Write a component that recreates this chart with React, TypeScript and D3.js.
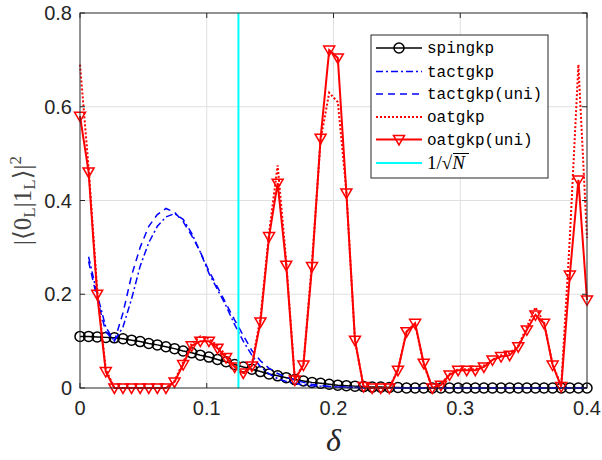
import React from 'react';
import * as d3 from 'd3';

// delta grid: 60 points from 0 to 0.4
const N_PTS = 60;
const deltas = d3.range(N_PTS).map(i => (i * 0.4) / (N_PTS - 1));

const spingkp = [
  0.110, 0.110, 0.109, 0.108, 0.107, 0.105, 0.102, 0.099, 0.095, 0.092,
  0.088, 0.084, 0.079, 0.075, 0.070, 0.066, 0.061, 0.056, 0.050, 0.045,
  0.040, 0.035, 0.030, 0.026, 0.022, 0.018, 0.015, 0.012, 0.010, 0.008,
  0.006, 0.005, 0.004, 0.003, 0.002, 0.002, 0.001, 0.001, 0, 0,
  0, 0, 0, 0, 0, 0, 0, 0, 0, 0,
  0, 0, 0, 0, 0, 0, 0, 0, 0, 0,
];

// tact curves start at the second grid point
const tactgkp = [
  null, 0.28, 0.20, 0.13, 0.10, 0.13, 0.19, 0.26, 0.31, 0.345,
  0.365, 0.372, 0.36, 0.33, 0.29, 0.245, 0.21, 0.175, 0.135, 0.10,
  0.07, 0.045, 0.03, 0.02, 0.014, 0.01, 0.007, 0.005, 0.004, 0.003,
  0.002, 0.002, 0.001, 0.001, 0, 0, 0, 0, 0, 0,
  0, 0, 0, 0, 0, 0, 0, 0, 0, 0,
  0, 0, 0, 0, 0, 0, 0, 0, 0, 0,
];

const tactgkpUni = [
  null, 0.27, 0.19, 0.12, 0.10, 0.16, 0.24, 0.30, 0.345, 0.37,
  0.383, 0.375, 0.355, 0.325, 0.29, 0.25, 0.215, 0.18, 0.145, 0.112,
  0.08, 0.058, 0.042, 0.031, 0.023, 0.017, 0.012, 0.008, 0.005, 0.003,
  0.002, 0.001, 0.001, 0, 0, 0, 0, 0, 0, 0,
  0, 0, 0, 0, 0, 0, 0, 0, 0, 0,
  0, 0, 0, 0, 0, 0, 0, 0, 0, 0,
];

const oatgkp = [
  0.69, 0.47, 0.21, 0.04, 0, 0, 0, 0, 0, 0,
  0, 0.015, 0.055, 0.095, 0.11, 0.105, 0.09, 0.07, 0.048, 0.03,
  0.05, 0.15, 0.33, 0.475, 0.27, 0.02, 0.05, 0.27, 0.53, 0.63,
  0.61, 0.42, 0.10, 0.003, 0, 0, 0, 0.04, 0.12, 0.135,
  0.05, 0, 0.008, 0.03, 0.04, 0.04, 0.04, 0.048, 0.06, 0.07,
  0.075, 0.09, 0.13, 0.172, 0.14, 0.05, 0.005, 0.32, 0.69, 0.32,
];

const oatgkpUni = [
  0.58, 0.461, 0.20, 0.035, 0, 0, 0, 0, 0, 0,
  0, 0.013, 0.05, 0.09, 0.10, 0.10, 0.085, 0.065, 0.045, 0.032,
  0.047, 0.141, 0.323, 0.437, 0.262, 0.017, 0.049, 0.259, 0.533, 0.721,
  0.704, 0.416, 0.102, 0.003, 0, 0, 0, 0.038, 0.12, 0.138,
  0.053, 0, 0.006, 0.028, 0.038, 0.038, 0.038, 0.045, 0.06, 0.067,
  0.07, 0.088, 0.124, 0.156, 0.138, 0.049, 0.003, 0.241, 0.444, 0.188,
];

const invSqrtN = 0.125; // 1/sqrt(64)

const xTicks = [0, 0.1, 0.2, 0.3, 0.4];
const yTicks = [0, 0.2, 0.4, 0.6, 0.8];

const legendItems = ['spingkp', 'tactgkp', 'tactgkp(uni)', 'oatgkp', 'oatgkp(uni)'];

const W = 602;
const H = 460;
const margin = { top: 13, right: 15, bottom: 72, left: 80 };

const AXIS_COLOR = '#262626';

function App() {
  const x = d3.scaleLinear().domain([0, 0.4]).range([margin.left, W - margin.right]);
  const y = d3.scaleLinear().domain([0, 0.8]).range([H - margin.bottom, margin.top]);

  const mkLine = (vals: (number | null)[]) =>
    d3.line<number>()
      .defined((_, i) => vals[i] !== null)
      .x(d => x(d))
      .y((_, i) => y(vals[i] as number))(deltas) || '';

  const tri = (cx: number, cy: number) =>
    `M${cx - 5.5},${cy - 4}L${cx + 5.5},${cy - 4}L${cx},${cy + 5.5}Z`;

  const x0 = x(0), x1 = x(0.4), y0 = y(0), y1 = y(0.8);

  // legend
  const lg = { x: 371, y: 35, w: 177, h: 143 };
  const rowY = [48, 71.5, 94, 117, 139.5, 163];
  const sx0 = 376, sx1 = 422, tx = 427;

  return (
    <div style={{ position: 'fixed', left: 0, top: 0 }}>
      <svg width={W} height={H} style={{ display: 'block', background: '#fff' }}>
        <rect x={0} y={0} width={W} height={H} fill="#fff" />
        {/* grid */}
        {xTicks.slice(1, -1).map(t => (
          <line key={'gx' + t} x1={x(t)} x2={x(t)} y1={y0} y2={y1} stroke="#dfdfdf" strokeWidth={1} />
        ))}
        {yTicks.slice(1, -1).map(t => (
          <line key={'gy' + t} x1={x0} x2={x1} y1={y(t)} y2={y(t)} stroke="#dfdfdf" strokeWidth={1} />
        ))}

        {/* series */}
        <path d={mkLine(spingkp)} fill="none" stroke="#000" strokeWidth={1.5} />
        {deltas.map((d, i) => (
          <circle key={'c' + i} cx={x(d)} cy={y(spingkp[i])} r={5} fill="none" stroke="#000" strokeWidth={1.5} />
        ))}
        <path d={mkLine(tactgkp)} fill="none" stroke="#0000ff" strokeWidth={1.5} strokeDasharray="7,3,2,3" />
        <path d={mkLine(tactgkpUni)} fill="none" stroke="#0000ff" strokeWidth={1.5} strokeDasharray="7,5" />
        <path d={mkLine(oatgkp)} fill="none" stroke="#ff0000" strokeWidth={2} strokeDasharray="2,2" />
        <path d={mkLine(oatgkpUni)} fill="none" stroke="#ff0000" strokeWidth={2} />
        {deltas.map((d, i) => (
          <path key={'t' + i} d={tri(x(d), y(oatgkpUni[i]))} fill="none" stroke="#ff0000" strokeWidth={1.5} />
        ))}
        <line x1={x(invSqrtN)} x2={x(invSqrtN)} y1={y0} y2={y1} stroke="#00ffff" strokeWidth={2} />

        {/* axes box */}
        <rect x={x0} y={y1} width={x1 - x0} height={y0 - y1} fill="none" stroke={AXIS_COLOR} strokeWidth={1} />
        {xTicks.map(t => (
          <g key={'xt' + t}>
            <line x1={x(t)} x2={x(t)} y1={y0} y2={y0 - 5} stroke={AXIS_COLOR} />
            <line x1={x(t)} x2={x(t)} y1={y1} y2={y1 + 5} stroke={AXIS_COLOR} />
            <text x={x(t)} y={y0 + 27} textAnchor="middle" fontFamily="Liberation Sans, Arial, sans-serif" fontSize={20} fill={AXIS_COLOR}>
              {t === 0 ? '0' : String(t)}
            </text>
          </g>
        ))}
        {yTicks.map(t => (
          <g key={'yt' + t}>
            <line x1={x0} x2={x0 + 5} y1={y(t)} y2={y(t)} stroke={AXIS_COLOR} />
            <line x1={x1} x2={x1 - 5} y1={y(t)} y2={y(t)} stroke={AXIS_COLOR} />
            <text x={x0 - 8} y={y(t) + 7} textAnchor="end" fontFamily="Liberation Sans, Arial, sans-serif" fontSize={20} fill={AXIS_COLOR}>
              {t === 0 ? '0' : String(t)}
            </text>
          </g>
        ))}

        {/* axis labels */}
        <text x={(x0 + x1) / 2} y={451} textAnchor="middle" fontFamily="Liberation Serif, DejaVu Serif, serif" fontStyle="italic" fontSize={32} fill={AXIS_COLOR}>
          δ
        </text>
        <text transform={`translate(31,${(y0 + y1) / 2}) rotate(-90)`} textAnchor="middle" fontFamily="Liberation Serif, DejaVu Serif, serif" fontSize={25} fill="#444">
          |⟨0<tspan fontSize={17} dy={4}>L</tspan><tspan dy={-4}>|1</tspan><tspan fontSize={17} dy={4}>L</tspan><tspan dy={-4}>⟩|</tspan><tspan fontSize={17} dy={-10}>2</tspan>
        </text>

        {/* legend */}
        <rect x={lg.x} y={lg.y} width={lg.w} height={lg.h} fill="#fff" stroke={AXIS_COLOR} strokeWidth={1} />
        <line x1={sx0} x2={sx1} y1={rowY[0]} y2={rowY[0]} stroke="#000" strokeWidth={1.5} />
        <circle cx={(sx0 + sx1) / 2} cy={rowY[0]} r={5} fill="none" stroke="#000" strokeWidth={1.5} />
        <line x1={sx0} x2={sx1} y1={rowY[1]} y2={rowY[1]} stroke="#0000ff" strokeWidth={1.5} strokeDasharray="7,3,2,3" />
        <line x1={sx0} x2={sx1} y1={rowY[2]} y2={rowY[2]} stroke="#0000ff" strokeWidth={1.5} strokeDasharray="7,5" />
        <line x1={sx0} x2={sx1} y1={rowY[3]} y2={rowY[3]} stroke="#ff0000" strokeWidth={2} strokeDasharray="2,2" />
        <line x1={sx0} x2={sx1} y1={rowY[4]} y2={rowY[4]} stroke="#ff0000" strokeWidth={2} />
        <path d={tri((sx0 + sx1) / 2, rowY[4])} fill="none" stroke="#ff0000" strokeWidth={1.5} />
        <line x1={sx0} x2={sx1} y1={rowY[5]} y2={rowY[5]} stroke="#00ffff" strokeWidth={2} />
        {legendItems.map((s, i) => (
          <text key={s} x={tx} y={rowY[i] + 5} fontFamily="Liberation Mono, DejaVu Sans Mono, monospace" fontSize={16} fill="#000">
            {s}
          </text>
        ))}
        <text x={tx} y={rowY[5] + 6} fontFamily="Liberation Serif, DejaVu Serif, serif" fontSize={19} fill="#000">
          1/√<tspan fontStyle="italic">N</tspan>
        </text>
        <line x1={tx + 26} x2={tx + 42} y1={rowY[5] - 9.5} y2={rowY[5] - 9.5} stroke="#000" strokeWidth={1} />
      </svg>
    </div>
  );
}

export default App;
